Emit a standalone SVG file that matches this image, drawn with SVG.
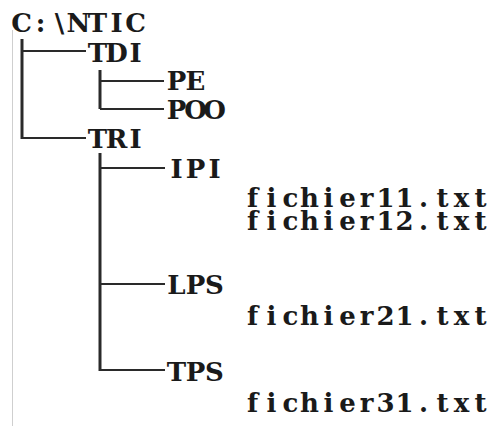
<svg xmlns="http://www.w3.org/2000/svg" width="495" height="426" viewBox="0 0 495 426">
<style>
text{font-family:"DejaVu Serif","Liberation Serif",serif;font-weight:bold;font-size:26px;fill:#1a1a1a;text-anchor:middle}
.v{stroke:#2a2a2a;stroke-width:3;fill:none}
.h{stroke:#2a2a2a;stroke-width:2;fill:none}
.border{stroke:#cfcfcf;stroke-width:1;fill:none}
</style>
<rect width="495" height="426" fill="#ffffff"/>
<line class="border" x1="12.5" y1="30" x2="12.5" y2="426"/>
<g id="connectors">
<path class="v" d="M22 39V139"/>
<path class="h" d="M22 51H86M22 138H86"/>
<path class="v" d="M100 70V109"/>
<path class="h" d="M100 81H164M100 109H164"/>
<path class="v" d="M100 153V371"/>
<path class="h" d="M100 168H165M100 284H165M100 370H165"/>
</g>
<g id="root"><text x="21.5 40.5 59.5 78.5 97.5 116.5 135.5" y="32">C:\NTIC</text></g>
<g id="tdi"><text x="97.5 116.5 135.5" y="62">TDI</text></g>
<g id="pe"><text x="176.5 195.5" y="90">PE</text></g>
<g id="poo"><text x="176.5 195.5 214.5" y="119">POO</text></g>
<g id="tri"><text x="97.5 116.5 135.5" y="148">TRI</text></g>
<g id="ipi"><text x="176.5 195.5 214.5" y="178">IPI</text></g>
<g id="fichier11"><text x="252.5 271.5 290.5 309.5 328.5 347.5 366.5 385.5 404.5 423.5 442.5 461.5 480.5" y="207">fichier11.txt</text></g>
<g id="fichier12"><text x="252.5 271.5 290.5 309.5 328.5 347.5 366.5 385.5 404.5 423.5 442.5 461.5 480.5" y="230">fichier12.txt</text></g>
<g id="lps"><text x="176.5 195.5 214.5" y="294">LPS</text></g>
<g id="fichier21"><text x="252.5 271.5 290.5 309.5 328.5 347.5 366.5 385.5 404.5 423.5 442.5 461.5 480.5" y="325">fichier21.txt</text></g>
<g id="tps"><text x="176.5 195.5 214.5" y="381">TPS</text></g>
<g id="fichier31"><text x="252.5 271.5 290.5 309.5 328.5 347.5 366.5 385.5 404.5 423.5 442.5 461.5 480.5" y="412">fichier31.txt</text></g>
</svg>
